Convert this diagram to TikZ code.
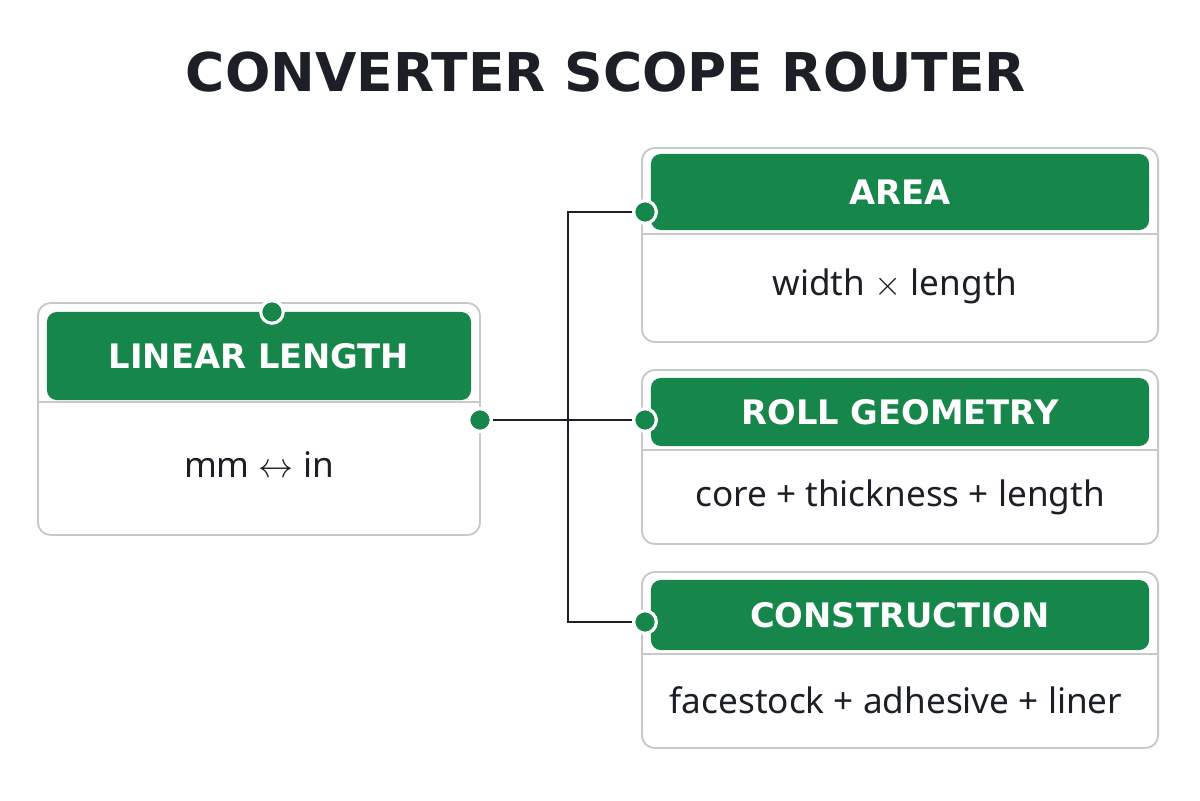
\documentclass[tikz,border=0pt]{standalone}
\usepackage{fontspec}
\setmainfont{Noto Sans}
\newfontfamily\headfont{DejaVu Sans}
\definecolor{routergreen}{RGB}{22,134,74}
\definecolor{boxgray}{RGB}{200,200,200}
\definecolor{inkdark}{RGB}{28,32,38}
\usetikzlibrary{positioning, calc}

\tikzset{
  card/.style={draw=boxgray, line width=1.3pt, fill=white, rounded corners=9pt, inner sep=0pt},
  head/.style={fill=routergreen, text=white, font=\headfont\bfseries\fontsize{24}{28}\selectfont, rounded corners=7pt, inner sep=0pt},
  body/.style={text=inkdark, font=\fontsize{25}{28}\selectfont},
  port/.style={circle, fill=routergreen, draw=white, line width=2.2pt, minimum size=16pt, inner sep=0pt},
  wire/.style={draw=inkdark, line width=1.9pt}
}

\begin{document}
\begin{tikzpicture}[x=0.025cm, y=-0.025cm]
        \useasboundingbox (0,0) rectangle (1200,800);
        % Title
        \node[text=inkdark, font=\headfont\bfseries\fontsize{38}{44}\selectfont] (title) at (606,72) {CONVERTER SCOPE ROUTER};

        % Linear length card
        \node[card, minimum width=11.05cm, minimum height=5.8cm] (lin) at (259,419) {};
        \node[head, minimum width=10.6cm, minimum height=2.2cm] (linh) at (259,356) {LINEAR LENGTH};
        \draw[boxgray, line width=1.3pt] (38,402) -- (480,402);
        \node[body] (linb) at (259,465) {mm $\leftrightarrow$ in};

        % Area card
        \node[card, minimum width=12.9cm, minimum height=4.85cm] (area) at (900,245) {};
        \node[head, minimum width=12.45cm, minimum height=1.9cm] (areah) at (900,192) {AREA};
        \draw[boxgray, line width=1.3pt] (642,234) -- (1158,234);
        \node[body] (areab) at (895,286) {width $\times$ length};

        % Roll geometry card
        \node[card, minimum width=12.9cm, minimum height=4.35cm] (roll) at (900,457) {};
        \node[head, minimum width=12.45cm, minimum height=1.7cm] (rollh) at (900,412) {ROLL GEOMETRY};
        \draw[boxgray, line width=1.3pt] (642,450) -- (1158,450);
        \node[body] (rollb) at (900,497) {core\ +\ thickness\ +\ length};

        % Construction card
        \node[card, minimum width=12.9cm, minimum height=4.4cm] (cons) at (900,660) {};
        \node[head, minimum width=12.45cm, minimum height=1.75cm] (consh) at (900,615) {CONSTRUCTION};
        \draw[boxgray, line width=1.3pt] (642,654) -- (1158,654);
        \node[body] (consb) at (896,700) {facestock\ +\ adhesive\ +\ liner};

        % Connectors
        \coordinate (bus) at (568,420);
        \node[port] (pout) at (480,420) {};
        \node[port] (pa) at (645,212) {};
        \node[port] (pr) at (645,420) {};
        \node[port] (pc) at (645,622) {};
        \draw[wire] (pout) -- (bus);
        \draw[wire] (pa) -| (bus) |- (pc);
        \draw[wire] (bus) -- (pr);
        \node[port] at (pout) {};
        \node[port] at (pa) {};
        \node[port] at (pr) {};
        \node[port] at (pc) {};
        \node[port] (ptop) at (272,312) {};
      \end{tikzpicture}
\end{document}
